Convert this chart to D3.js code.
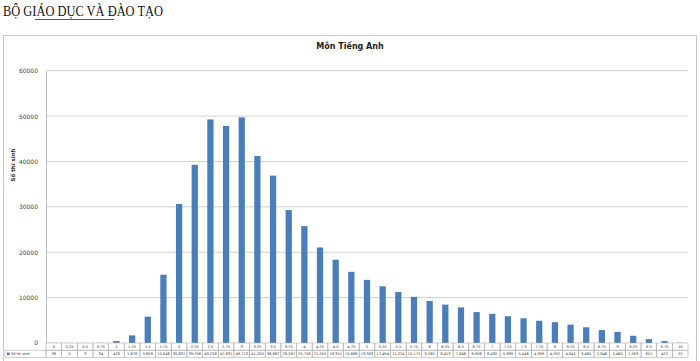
<!DOCTYPE html>
<html>
<head>
<meta charset="utf-8">
<script src="https://cdn.jsdelivr.net/npm/d3@7"></script>
<style>
  body { margin: 0; background: #fff; }
  svg { display: block; }
</style>
</head>
<body>
<div id="chart"></div>
<script>
// điểm thi (categories) and number of candidates
const scores = ["0","0.25","0.5","0.75","1","1.25","1.5","1.75","2","2.25","2.5","2.75","3","3.25","3.5","3.75","4","4.25","4.5","4.75","5","5.25","5.5","5.75","6","6.25","6.5","6.75","7","7.25","7.5","7.75","8","8.25","8.5","8.75","9","9.25","9.5","9.75","10"];
const counts = [38, 5, 3, 34, 428, 1676, 5809, 15046, 30631, 39256, 49258, 47831, 49713, 41200, 36882, 29287, 25756, 21050, 18351, 15689, 13903, 12494, 11224, 10175, 9265, 8453, 7846, 6808, 6430, 5889, 5446, 4909, 4592, 4045, 3465, 2846, 2460, 1593, 851, 422, 55];
const yTicks = [0, 10000, 20000, 30000, 40000, 50000, 60000];

function draw() {
    const W = 700, H = 361;
    const plot = {left: 46, right: 688, top: 70.7, bottom: 343};

    const svg = d3.select("#chart").append("svg")
        .attr("width", W)
        .attr("height", H);

    // page header
    svg.append("text")
        .attr("x", 3)
        .attr("y", 16)
        .attr("font-family", "Liberation Serif, Times New Roman, serif")
        .attr("font-size", "14px")
        .attr("textLength", 160)
        .attr("lengthAdjust", "spacingAndGlyphs")
        .attr("fill", "#111")
        .text("BỘ GIÁO DỤC VÀ ĐÀO TẠO");
    svg.append("line")
        .attr("x1", 35).attr("x2", 114)
        .attr("y1", 19.5).attr("y2", 19.5)
        .attr("stroke", "#444").attr("stroke-width", 0.9);

    // chart frame
    svg.append("rect")
        .attr("x", 3.5).attr("y", 35.5)
        .attr("width", 693).attr("height", 340)
        .attr("fill", "none")
        .attr("stroke", "#c8c8c8")
        .attr("stroke-width", 1);

    svg.append("text")
        .attr("x", 350)
        .attr("y", 49)
        .attr("text-anchor", "middle")
        .attr("font-family", "DejaVu Sans, sans-serif")
        .attr("font-weight", "bold")
        .attr("font-size", "8px")
        .attr("fill", "#222")
        .text("Môn Tiếng Anh");

    var x = d3.scaleBand()
        .domain(scores)
        .range([plot.left, plot.right])
        .paddingInner(0.6)
        .paddingOuter(0.3);

    var xCell = d3.scaleBand()
        .domain(scores)
        .range([plot.left, plot.right]);

    var y = d3.scaleLinear()
        .domain([0, 60000])
        .range([plot.bottom, plot.top]);

    // gridlines
    svg.append("g")
        .selectAll("line")
        .data(yTicks.filter(d => d > 0))
        .enter()
        .append("line")
            .attr("x1", plot.left)
            .attr("x2", plot.right)
            .attr("y1", d => y(d))
            .attr("y2", d => y(d))
            .attr("stroke", "#d0d0d0")
            .attr("stroke-width", 1);

    // y axis labels
    svg.append("g")
        .attr("transform", "translate(" + plot.left + ",0)")
        .call(d3.axisLeft(y).tickValues(yTicks).tickSize(0).tickPadding(8).tickFormat(d3.format("d")))
        .call(g => g.select(".domain").attr("stroke", "#bbb"))
        .call(g => g.selectAll("text")
            .attr("font-family", "DejaVu Sans, sans-serif")
            .attr("font-size", "6px")
            .attr("fill", "#444"));

    svg.append("text")
        .attr("transform", "translate(15,165) rotate(-90)")
        .attr("text-anchor", "middle")
        .attr("font-family", "DejaVu Sans, sans-serif")
        .attr("font-weight", "bold")
        .attr("font-size", "5.5px")
        .attr("fill", "#333")
        .text("Số thí sinh");

    // bars
    svg.append("g")
        .selectAll("rect")
        .data(counts)
        .enter()
        .append("rect")
            .attr("x", (d, i) => x(scores[i]))
            .attr("y", d => y(d))
            .attr("width", x.bandwidth())
            .attr("height", d => plot.bottom - y(d))
            .attr("fill", "#4a7ebb");

    // data table under the chart
    const rowTop = plot.bottom, rowH = 7.2;
    const table = svg.append("g");
    const fmt = d3.format(",");

    scores.forEach((s, i) => {
        const cx = xCell(s), cw = xCell.bandwidth();
        table.append("rect")
            .attr("x", cx).attr("y", rowTop)
            .attr("width", cw).attr("height", rowH)
            .attr("fill", "none").attr("stroke", "#b0b0b0").attr("stroke-width", 0.6);
        table.append("rect")
            .attr("x", cx).attr("y", rowTop + rowH)
            .attr("width", cw).attr("height", rowH)
            .attr("fill", "none").attr("stroke", "#b0b0b0").attr("stroke-width", 0.6);
        table.append("text")
            .attr("x", cx + cw / 2).attr("y", rowTop + rowH - 2.2)
            .attr("text-anchor", "middle")
            .attr("font-family", "DejaVu Sans, sans-serif")
            .attr("font-size", "3.6px")
            .attr("fill", "#333")
            .text(s);
        table.append("text")
            .attr("x", cx + cw / 2).attr("y", rowTop + 2 * rowH - 2.2)
            .attr("text-anchor", "middle")
            .attr("font-family", "DejaVu Sans, sans-serif")
            .attr("font-size", "3.6px")
            .attr("fill", "#333")
            .text(fmt(counts[i]));
    });

    // legend cell
    table.append("rect")
        .attr("x", 5).attr("y", rowTop + rowH)
        .attr("width", plot.left - 5).attr("height", rowH)
        .attr("fill", "none").attr("stroke", "#b0b0b0").attr("stroke-width", 0.6);
    table.append("rect")
        .attr("x", 7).attr("y", rowTop + rowH + 2.3)
        .attr("width", 2.6).attr("height", 2.6)
        .attr("fill", "#4a7ebb");
    table.append("text")
        .attr("x", 11).attr("y", rowTop + 2 * rowH - 2.2)
        .attr("font-family", "DejaVu Sans, sans-serif")
        .attr("font-size", "3.6px")
        .attr("fill", "#333")
        .text("Số thí sinh");
}

window.onload = () => {
    draw();
}
</script>
</body>
</html>
